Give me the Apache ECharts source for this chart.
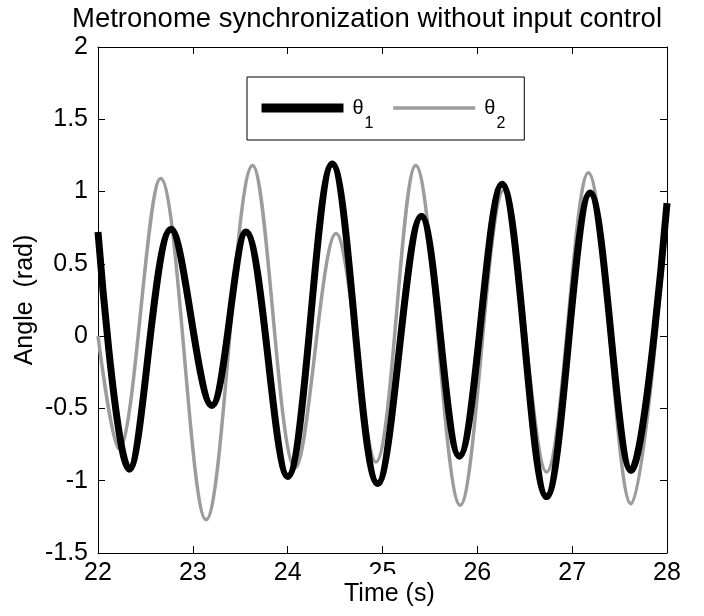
<!DOCTYPE html>
<html>
<head>
<meta charset="utf-8">
<script src="https://cdn.jsdelivr.net/npm/echarts@6/dist/echarts.min.js"></script>
<style>
  html, body { margin: 0; padding: 0; background: #fff; }
  #chart { width: 704px; height: 616px; }
</style>
</head>
<body>
<div id="chart"></div>
<script>
// values: start, peaks, troughs, end
var time1 = [22.00, 22.33, 22.77, 23.20, 23.56, 24.00, 24.47, 24.95, 25.41, 25.81, 26.26, 26.73, 27.19, 27.62, 28.00];
var theta1 = [0.72, -0.92, 0.74, -0.48, 0.72, -0.97, 1.19, -1.02, 0.83, -0.83, 1.05, -1.11, 0.99, -0.93, 0.92];

var time2 = [22.00, 22.22, 22.66, 23.14, 23.63, 24.08, 24.51, 24.93, 25.35, 25.82, 26.28, 26.73, 27.17, 27.62, 28.00];
var theta2 = [0.00, -0.78, 1.09, -1.27, 1.18, -0.91, 0.71, -0.87, 1.18, -1.17, 1.01, -0.94, 1.13, -1.16, 0.85];

var xTicks = [22, 23, 24, 25, 26, 27, 28];
var yTicks = [-1.5, -1, -0.5, 0, 0.5, 1, 1.5, 2];

var font = "'Liberation Sans', Arial, sans-serif";

function zip(xs, ys) {
    var out = [];
    for (var i = 0; i < xs.length; i++) out.push([xs[i], ys[i]]);
    return out;
}

var boxAxis = {
    axisLine: { show: true, onZero: false, lineStyle: { color: '#000', width: 1 } },
    axisTick: { show: true, inside: true, length: 7, lineStyle: { color: '#000', width: 1 } },
    splitLine: { show: false }
};

var chart = echarts.init(document.getElementById('chart'));
chart.setOption({
    backgroundColor: '#fff',
    animation: false,
    title: [
        {
            text: 'Metronome synchronization without input control',
            left: 72,
            top: 5,
            padding: 0,
            textStyle: { fontFamily: font, fontSize: 27.5, fontWeight: 'normal', color: '#000' }
        },
        {
            // x label: its white box hides the lower half of the "25" tick label
            text: 'Time (s)',
            left: 338,
            top: 574,
            padding: [8, 6, 2, 6],
            backgroundColor: '#fff',
            z: 10,
            textStyle: { fontFamily: font, fontSize: 25, fontWeight: 'normal', color: '#000' }
        }
    ],
    legend: {
        data: [
            { name: 'θ1', lineStyle: { width: 9 } },
            { name: 'θ2', lineStyle: { width: 3.5 } }
        ],
        left: 247,
        top: 77,
        orient: 'horizontal',
        padding: [21, 19, 8, 10],
        itemGap: 18,
        itemWidth: 82,
        itemHeight: 14,
        borderColor: '#000',
        borderWidth: 1,
        borderRadius: 0,
        backgroundColor: '#fff',
        itemStyle: { color: 'transparent', borderWidth: 0, opacity: 0 },
        formatter: function (name) {
            return '{t|θ}{s|' + name.slice(1) + '}';
        },
        textStyle: {
            fontFamily: font,
            color: '#000',
            rich: {
                t: { fontFamily: font, fontSize: 20, color: '#000', padding: [0, 0, 0, 4] },
                s: { fontFamily: font, fontSize: 16, color: '#000', padding: [32, 0, 0, 1] }
            }
        }
    },
    grid: { left: 98, right: 37, top: 47, bottom: 63, outerBoundsMode: 'none', containLabel: false },
    xAxis: [
        Object.assign({
            type: 'value',
            position: 'bottom',
            min: xTicks[0],
            max: xTicks[xTicks.length - 1],
            interval: 1,
            axisLabel: { fontFamily: font, fontSize: 25, color: '#000', margin: 8 }
        }, boxAxis),
        Object.assign({
            type: 'value',
            position: 'top',
            min: xTicks[0],
            max: xTicks[xTicks.length - 1],
            interval: 1,
            axisLabel: { show: false }
        }, boxAxis)
    ],
    yAxis: [
        Object.assign({
            type: 'value',
            position: 'left',
            min: yTicks[0],
            max: yTicks[yTicks.length - 1],
            interval: 0.5,
            name: 'Angle  (rad)',
            nameLocation: 'middle',
            nameGap: 60,
            nameMoveOverlap: false,
            nameTextStyle: { fontFamily: font, fontSize: 25, color: '#000' },
            axisLabel: { fontFamily: font, fontSize: 25, color: '#000', margin: 10 }
        }, boxAxis),
        Object.assign({
            type: 'value',
            position: 'right',
            min: yTicks[0],
            max: yTicks[yTicks.length - 1],
            interval: 0.5,
            axisLabel: { show: false }
        }, boxAxis)
    ],
    series: [
        {
            name: 'θ1',
            type: 'line',
            z: 3,
            smooth: 0.35,
            symbol: 'none',
            color: '#000',
            lineStyle: { color: '#000', width: 7 },
            data: zip(time1, theta1)
        },
        {
            name: 'θ2',
            type: 'line',
            z: 2,
            smooth: 0.35,
            symbol: 'none',
            color: '#9c9c9c',
            lineStyle: { color: '#9c9c9c', width: 3.5 },
            data: zip(time2, theta2)
        }
    ]
});
</script>
</body>
</html>
